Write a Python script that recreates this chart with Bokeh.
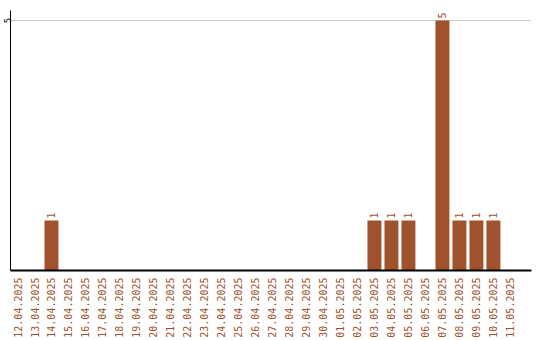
import math

from bokeh.core.properties import value
from bokeh.embed import file_html
from bokeh.models import ColumnDataSource, FixedTicker, Range1d
from bokeh.plotting import figure
from bokeh.resources import INLINE

# Daily counts, 12.04.2025 - 11.05.2025
dates = [
    "12.04.2025", "13.04.2025", "14.04.2025", "15.04.2025", "16.04.2025",
    "17.04.2025", "18.04.2025", "19.04.2025", "20.04.2025", "21.04.2025",
    "22.04.2025", "23.04.2025", "24.04.2025", "25.04.2025", "26.04.2025",
    "27.04.2025", "28.04.2025", "29.04.2025", "30.04.2025", "01.05.2025",
    "02.05.2025", "03.05.2025", "04.05.2025", "05.05.2025", "06.05.2025",
    "07.05.2025", "08.05.2025", "09.05.2025", "10.05.2025", "11.05.2025",
]
counts = [
    0, 0, 1, 0, 0,
    0, 0, 0, 0, 0,
    0, 0, 0, 0, 0,
    0, 0, 0, 0, 0,
    0, 1, 1, 1, 0,
    5, 1, 1, 1, 0,
]
y_ticks = [5]

BROWN = "#A0522D"
FONT = "DejaVu Sans Mono"

idx = list(range(len(dates)))
bars = ColumnDataSource(dict(x=idx, top=counts))
shown = [i for i, c in enumerate(counts) if c > 0]
labels = ColumnDataSource(dict(
    x=shown,
    y=[counts[i] for i in shown],
    txt=[str(counts[i]) for i in shown],
))

p = figure(
    width=540, height=340,
    x_range=Range1d(-0.412, 30.24),
    y_range=Range1d(0, 5.2),
    output_backend="svg",
    toolbar_location=None,
    min_border_left=0, min_border_right=9,
    min_border_top=10, min_border_bottom=0,
)
p.outline_line_color = None
p.background_fill_color = "white"

p.vbar(x="x", top="top", width=0.82, bottom=0, source=bars,
       fill_color=BROWN, line_color=None)

p.text(x="x", y="y", text="txt", source=labels,
       angle=math.pi / 2, text_align="left", text_baseline="middle",
       y_offset=-2, text_color=BROWN,
       text_font=value(FONT), text_font_size="10px")

# x axis: one label per day, rotated
xa = p.xaxis[0]
xa.ticker = FixedTicker(ticks=idx)
xa.major_label_overrides = {i: d for i, d in zip(idx, dates)}
xa.major_label_orientation = math.pi / 2
xa.major_label_text_color = BROWN
xa.major_label_text_font = FONT
xa.major_label_text_font_size = "10px"
xa.major_label_standoff = 7
xa.major_tick_out = 0
xa.major_tick_in = 0
xa.minor_tick_out = 0
xa.minor_tick_in = 0
xa.axis_line_color = "black"
xa.axis_line_width = 2

# y axis: only the top value is labelled
ya = p.yaxis[0]
ya.ticker = FixedTicker(ticks=y_ticks)
ya.major_label_orientation = "vertical"
ya.major_label_text_color = "black"
ya.major_label_text_font = FONT
ya.major_label_text_font_size = "9px"
ya.major_label_standoff = 0
ya.major_tick_out = 0
ya.major_tick_in = 0
ya.minor_tick_out = 0
ya.minor_tick_in = 0
ya.axis_line_color = "black"
ya.axis_line_width = 1

p.xgrid.grid_line_color = None
p.ygrid.ticker = FixedTicker(ticks=y_ticks)
p.ygrid.grid_line_color = "#cccccc"

open("out.html", "w").write(file_html(p, INLINE))
